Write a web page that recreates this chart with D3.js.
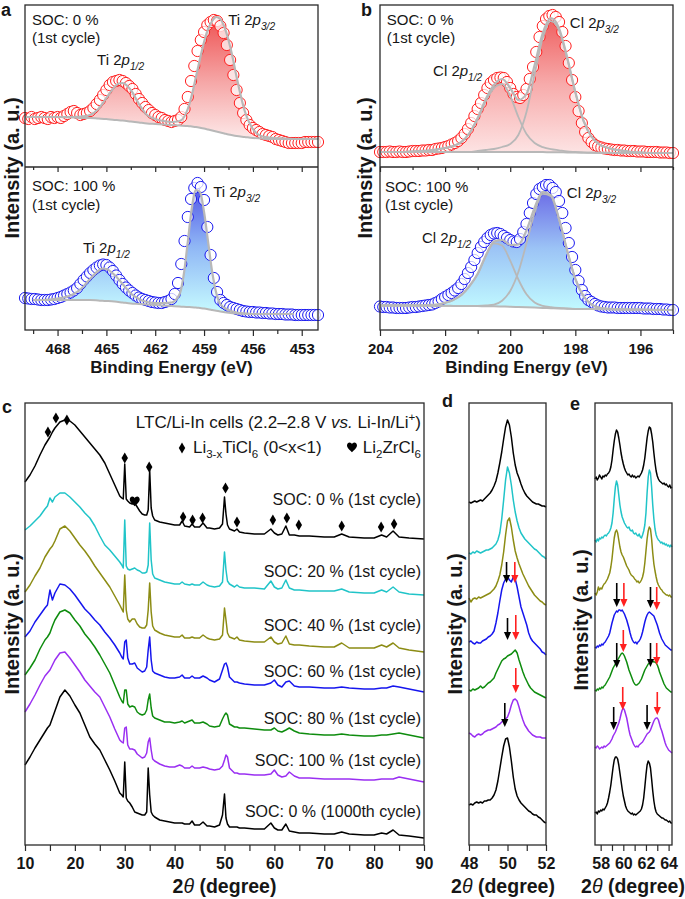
<!DOCTYPE html>
<html><head><meta charset="utf-8">
<script src="https://cdn.jsdelivr.net/npm/d3@7"></script>
<style>
html,body{margin:0;padding:0;background:#fff;}
svg{display:block;font-family:"Liberation Sans",Arial,Helvetica,sans-serif;}
</style></head><body>
<svg id="fig"></svg>
<script>
// ================= DATA =================
// ---- Panel a: Ti 2p XPS (circles: 470 -> 452 eV, step 0.2 eV) ----
const aEnergyStart = 470, aEnergyStep = -0.2;
const aTopCircles = [49,48,50,48,49,50,49,48,50,49, 50,49,51,53,55,56,54,52,53,54, 56,59,63,67,72,77,82,85,86,87, 86,84,81,78,73,68,64,60,57,54, 52,50,49,47,46,45,46,47,50,58, 70,86,101,116,127,135,142,145,147,146, 141,134,122,107,92,77,64,54,47,42, 39,37,35,33,32,31,30,28,27,26, 25,24,24,24,24,24,25,25,25,25, 25];
const aBotCircles = [32,31.5,31,31,30.5,30,30,30,30.5,31, 32,33,34.5,36,37.5,39.5,42,46,50,53.5, 57,60,62.5,64.5,65.5,65,62.5,59,54.5,50, 46,42.5,39.5,37,34.5,32.5,31,30,29,28, 27.5,27,27,28,29,31,36,47,66,89, 113,131,142,147,143,130,103,75,52,38, 30,27,25,23,22,21,20,19,18.5,18, 18,17.5,17.5,17,17,16.5,16.5,16,16,16, 15.5,15.5,15.5,15,15,15,15,15,15,15, 15];
const aTopFitE = [470,469,468,467,466.5,466,465.5,465,464.5,464.25,464,463.5,463,462.5,462,461.5,461,460.5,460,459.75,459.5,459.25,459,458.75,458.5,458.25,458,457.75,457.5,457.25,457,456.5,456,455.5,455,454,453,452];
const aTopFit = [50,50,50,50,50.5,52,58,69,80,83.5,84,77,63,52,48,46,45,46,58,72,90,108,125,138,146,150,148,140,127,110,90,56,38,31,29.5,28.5,28,28];
const aTopBg = [50,50,50,49.5,49,49,48.5,48,47,46.8,46.5,45.5,44.5,43.5,43,42.5,42,41.5,41,40.5,40,39.3,38.5,37.5,36.5,35.5,34.5,33.5,32.5,31.7,31,30,29,28.5,28,28,28,28];
const aBotFitE = [469.5,469,468.5,468,467.5,467,466.5,466,465.5,465.25,465,464.5,464,463.5,463,462.5,462,461.5,461,460.5,460.25,460,459.75,459.5,459.25,459,458.75,458.5,458.25,458,457.5,457,456.5,456,455,454,453.5];
const aBotFit = [30,30,30.5,31.5,33,36,42,51,59,61.5,61,55,46,36.5,31,28,27,27,27.5,36,55,88,122,140,138,118,88,58,37,26,20,17.5,16.5,16,16,16,16];
const aBotBg = [30,30,30,30,30,30,30,30,29.5,29.2,29,28.5,27.5,26.5,26,25.5,25,24.5,24,23.5,23.2,23,22.8,22.5,22,21.5,20.8,20,19.2,18.5,17.3,16.5,16.2,16,16,16,16];

// ---- Panel b: Cl 2p XPS (circles: 204 -> 195 eV, step 0.1 eV) ----
const bEnergyStart = 204, bEnergyStep = -0.1;
const bTopCircles = [15,15,15,15.5,15,15,15.5,15,15,15.5, 16,16,16,16.5,16.5,17,17,18,18.5,19, 20,21,22.5,24,26,29,33,38,44,51, 58,64,72,79,84,87,89,89.5,89,85, 79,73,70,69,72,78,88,100,115,130, 141,148,151,152,150,145,135,121,104,87, 70,56,44,35,29,25,22,20.5,19.5,18.5, 18,17.5,17,17,16.5,16.5,16,16,16,15.5, 15.5,15.5,15,15,15,15,14.5,14.5,14.5,14, 14];
const bBotCircles = [23.5,23,23,22.5,22.5,22,22,22,22,22.5, 23,23,23.5,24,24.5,25,25.5,27,28.5,31, 33,35,37,39.5,42,46,51,57,63,70, 77,83,88,92,95,96.5,97,96,94,92, 90,88.5,88,91,98,106,117,127,136,141, 143,145,145,142,138,129,117,102,87,73, 60,49,40,34,30,28,26,24.5,23.5,23, 22.5,22.5,22.5,22,22,22,22,22,22,22, 22,21.5,21.5,21.5,21,21,21,20.5,20.5,20, 20];
const bFitE = [204,203.75,203.5,203.25,203,202.75,202.5,202.25,202,201.75,201.5,201.25,201,200.75,200.5,200.25,200,199.75,199.5,199.25,199,198.75,198.5,198.25,198,197.75,197.5,197.25,197,196.75,196.5,196.25,196,195.75,195.5,195.25,195];
const bTopBg = [15,15,15,15,15,15,15,15,15,15,15,15,15,15,15,15,15,15,15,15,14.9,14.8,14.7,14.6,14.5,14.4,14.3,14.2,14.2,14.1,14.1,14,14,14,14,14,14];
const bTopP12 = [0,0,0,0,0.5,1,1.5,2.5,4,6,10,19,33,51,64,68,56,35,18,9,5,3,2,1,0.5,0,0,0,0,0,0,0,0,0,0,0,0];
const bTopP32 = [0,0,0,0,0,0,0,0,0,0,0,0,1,2,3,5,8,17,40,78,114,131,122,94,60,32,16,8,5,3,2,1,0.5,0,0,0,0];
const bTopEnv = [0,0,0,0,0.5,1,1.5,2.5,4,6,10,19,34,53,67,73,64,52,58,87,119,134,124,95,60.5,32,16,8,5,3,2,1,0.5,0,0,0,0];
const bBotBg = [24.5,24.5,24.5,24.4,24.4,24.3,24.3,24.2,24.2,24.1,24,24,23.9,23.8,23.7,23.5,23.3,23,22.7,22.4,22.1,21.8,21.5,21.3,21.1,21,20.9,20.8,20.7,20.6,20.5,20.4,20.3,20.2,20.1,20,20];
const bBotP12 = [0,0,0,0.2,0.3,0.4,0.7,1.2,3,6,11,20,32,50,63,61,46,27.5,13,5,2,1,0.5,0.2,0,0,0,0,0,0,0,0,0,0,0,0,0];
const bBotP32 = [0,0,0,0,0,0,0,0,0,0,0,0,0.3,0.8,1.7,5.7,15.7,35,64,95,114,112,89,58,30,13,4.5,1.3,0.5,0,0,0,0,0,0,0,0];
const bBotEnv = [0,0,0,0.2,0.3,0.4,0.7,1.2,3,6,11,20,32.3,50.8,64.7,66.7,61.7,62.5,77,100,116,113,89.5,58.2,30,13,4.5,1.3,0.5,0,0,0,0,0,0,0,0];

// ---- Panel c: XRD patterns (stacked, a.u.) ----
const cAngles = [10,11,12,13,14,14.5,15,15.5,16,17, 18,19,20,21,22,23,24,25,26,27, 28,29,29.4,29.7,30,30.3,30.6,31,31.5,32, 32.5,33,33.5,34,34.4,34.7,35,35.3,35.6,36, 37,38,39,40,41,41.5,42,43,43.5,44, 45,45.7,46.5,47,48,49,49.6,50,50.3,50.6, 51,52,52.5,53,54,56,58,59.3,60,60.7, 61.5,62.3,63,64,65,67,70,72,73.5,75, 78,80,81.5,82.5,83.8,85,87,90];
const cSoc0 = [363,370,379,390,400,404,408,413,417,423, 425,424,420,414,408,402,396,390,382,371, 360,349,347,346,381,346,344,342,341,342, 338,334,331,330,330,335,375,337,329,325, 323,322,321,320,320,324,319,318,321,318, 318,322,317,317,316,317,321,348,331,320, 316,314,316,313,312,311,311,316,312,310, 311,319,310,310,309,309,308,308,311,308, 307,307,310,308,314,308,307,306];
const cSoc20 = [315,319,324,329,336,339,347,343,348,352, 352,348,343,338,332,327,319,309,300,295, 289,283,280,277,325,279,276,275,276,277, 275,274,272,272,273,280,322,285,271,267, 265,263,262,261,261,263,261,260,261,260, 260,263,260,259,258,259,263,293,275,264, 261,258,260,258,257,257,256,264,258,256, 257,265,257,255,255,254,254,254,256,253, 252,252,255,253,258,253,251,250];
const cSoc40 = [253,260,269,277,288,292,296,299,304,316, 319,314,307,300,294,287,279,272,265,258, 249,240,236,233,270,235,226,223,226,226, 221,218,217,217,220,235,262,233,219,215, 212,210,209,208,208,210,207,207,208,207, 207,210,207,206,205,206,210,237,225,212, 208,206,208,205,204,203,203,208,203,201, 202,209,201,200,200,199,198,198,202,197, 197,197,200,198,202,197,195,193];
const cSoc60 = [208,214,223,230,237,240,255,245,252,261, 260,256,250,243,236,231,225,220,213,207, 200,192,188,186,203,205,187,181,181,182, 177,175,173,174,178,195,208,185,174,172, 170,168,167,167,168,170,167,167,169,167, 167,169,167,165,163,166,175,181,182,178, 168,163,163,162,161,160,160,162,165,160, 158,163,164,159,158,158,157,157,158,157, 156,156,157,157,159,158,156,153];
const cSoc80 = [170,177,185,196,205,208,212,219,225,233, 235,232,225,219,211,205,198,190,181,172, 160,148,144,142,155,155,141,138,139,138, 133,131,130,131,135,145,151,137,129,127, 125,123,123,122,123,124,122,124,125,122, 122,123,121,119,118,119,126,130,132,130, 121,118,118,117,117,116,115,115,117,114, 113,115,117,114,112,111,110,110,111,110, 109,109,110,110,111,112,110,107];
const cSoc100 = [133,141,150,160,169,172,175,180,185,192, 193,187,180,173,165,159,153,148,138,128, 116,105,103,102,117,118,100,96,96,95, 91,89,87,88,92,103,107,95,86,84, 81,79,78,78,80,79,77,77,79,77, 77,78,77,76,75,76,79,85,90,88, 77,72,72,71,71,70,70,71,75,70, 68,69,73,69,67,67,66,66,66,66, 65,65,66,66,66,68,66,63];
const cSoc0k = [80,88,97,105,113,117,120,127,134,148, 155,149,140,132,120,108,101,95,85,75, 64,52,50,48,83,47,44,42,38,33, 32,31,30,30,33,77,50,33,30,28, 25,24,23,22,22,22,21,21,24,20, 20,23,19,19,18,20,30,51,27,21, 18,18,18,17,17,16,16,22,17,15, 15,21,14,13,12,12,11,11,13,11, 10,10,12,11,15,10,9,7];
const cLabels = ["SOC: 0 % (1st cycle)","SOC: 20 % (1st cycle)","SOC: 40 % (1st cycle)","SOC: 60 % (1st cycle)","SOC: 80 % (1st cycle)","SOC: 100 % (1st cycle)","SOC: 0 % (1000th cycle)"];
const cLabelHeights = [340,268,214,168,121,79,28];
const cDiamondAngles = [14.6,16.2,18.4,30.0,34.9,41.7,43.6,45.6,50.2,52.5,59.7,62.5,64.9,73.5,81.4,84.0];
const cDiamondHeights = [413,427,425,387,378,328,325,327,357,323,325,327,320,319,318,321];
const cHeartAngles = [32.0];
const cHeartHeights = [343];

// ---- Panel d: 48-52 deg zoom (step 0.1) ----
const dAngleStart = 48, dAngleStep = 0.1;
const dSoc0 = [343,342,343,344,343,344,345,344,346,348, 350,352,355,359,364,372,382,393,406,418, 425,420,408,392,380,372,367,361,356,352, 349,347,345,343,342,341,341,340,339,339, 338];
const dSoc20 = [292,291,293,292,294,293,292,293,294,295, 295,296,297,299,301,305,312,326,345,365, 378,372,360,345,333,324,317,312,309,306, 304,302,300,298,296,295,293,291,289,288, 286];
const dSoc40 = [247,243,246,247,246,248,247,248,249,250, 251,252,254,256,259,264,270,280,293,310, 324,327,318,305,294,287,281,276,271,267, 263,259,256,253,250,248,246,244,243,241, 240];
const dSoc60 = [203,204,202,201,203,202,202,204,205,206, 208,209,211,214,222,232,244,255,262,266, 268,265,263,268,266,258,248,238,232,226, 220,212,207,204,202,200,198,196,193,192, 190];
const dSoc80 = [155,154,156,155,156,157,159,157,158,160, 162,163,165,167,172,176,180,184,186,187, 189,190,191,193,195,192,185,179,173,168, 164,160,157,155,153,152,151,150,149,148, 147];
const dSoc100 = [112,111,109,108,110,111,110,111,113,114, 115,115,116,117,118,120,121,123,125,126, 128,133,140,145,146,144,138,131,125,120, 117,114,112,110,109,108,108,108,107,107, 107];
const dSoc0k = [40,41,40,42,43,42,43,42,44,44, 45,45,47,50,55,64,76,88,99,106, 107,98,84,68,56,49,45,42,40,38, 36,34,33,31,30,30,28,27,25,23, 22];
const dArrowAngles = [49.95,50.38,50.0,50.43,49.86,50.43];
const dArrowTops = [283,283,227,230,142,177];
const dArrowBottoms = [262,262,205,205,118,152];
const dArrowKinds = ["ref","shift","ref","shift","ref","shift"];

// ---- Panel e: 57.5-64.3 deg zoom (step 0.1) ----
const eAngleStart = 57.5, eAngleStep = 0.1;
const eSoc0 = [366,368,365,367,370,368,366,369,368,370, 369,371,372,374,378,385,395,404,411,415, 413,407,400,392,386,381,377,374,372,370, 371,369,368,370,368,369,367,368,369,368, 370,372,375,380,387,397,407,414,418,417, 411,403,392,382,374,369,366,364,363,362, 361,362,360,361,359,358,360,357,358];
const eSoc20 = [305,303,306,304,307,306,308,307,309,310, 309,311,312,314,317,322,332,346,358,364, 360,350,340,333,328,325,322,320,318,317, 318,315,314,315,312,311,312,310,309,311, 308,307,310,314,320,332,352,368,375,372, 358,340,326,316,310,307,305,304,302,303, 301,302,300,301,299,300,298,300,298];
const eSoc40 = [252,250,253,258,255,257,256,259,261,262, 264,266,269,272,278,286,297,307,313,315, 312,305,298,293,290,288,285,282,279,277, 275,272,270,269,268,266,265,263,264,262, 263,265,268,273,282,294,306,314,318,316, 306,292,281,274,268,263,260,258,256,255, 253,252,251,250,250,249,250,248,248];
const eSoc60 = [198,197,199,198,200,199,201,200,202,203, 205,207,209,212,217,222,226,230,232,234, 233,235,235,234,235,233,231,228,225,221, 217,212,208,205,203,202,203,201,203,204, 206,209,213,218,223,227,230,232,233,232, 231,230,229,226,223,220,216,212,209,206, 204,202,200,199,198,197,196,195,195];
const eSoc80 = [155,154,156,155,157,156,158,157,159,160, 162,164,166,168,171,174,177,179,181,183, 185,187,189,191,192,191,189,186,183,179, 175,172,169,166,163,161,160,160,161,162, 164,166,169,172,175,177,179,181,182,183, 183,184,183,183,182,180,177,173,170,167, 164,161,159,157,156,155,154,153,153];
const eSoc100 = [98,97,99,98,96,97,98,97,99,98, 99,100,101,102,104,106,109,111,113,116, 119,122,126,131,135,137,135,131,127,121, 115,110,107,104,101,99,98,99,98,100, 101,102,103,105,107,109,111,112,113,115, 118,121,124,126,127,127,125,121,117,114, 110,106,102,99,97,95,94,93,92];
const eSoc0k = [32,33,31,34,33,35,34,36,35,37, 39,42,47,53,60,69,78,85,88,88, 86,80,72,64,56,49,44,39,36,34, 33,32,31,32,30,31,30,31,32,33, 34,36,40,47,58,70,80,84,82,77, 66,54,44,37,33,31,30,29,28,27, 27,26,25,25,24,23,24,22,22];
const eArrowAngles = [59.42,60.05,62.4,62.95, 59.42,60.0,62.4,62.95, 59.15,59.95,62.1,63.0];
const eArrowTops = [262,262,258,258, 202,215,202,202, 138,158,140,153];
const eArrowBottoms = [238,238,237,235, 177,193,178,180, 115,135,115,130];
const eArrowKinds = ["ref","shift","ref","shift","ref","shift","ref","shift","ref","shift","ref","shift"];

// tick values
const aMajorTicks = [468,465,462,459,456,453], aMinorTicks = [469.5,466.5,463.5,460.5,457.5,454.5];
const bMajorTicks = [204,202,200,198,196], bMinorTicks = [203,201,199,197,195];
const cMajorTicks = [10,20,30,40,50,60,70,80,90], cMinorTicks = [15,25,35,45,55,65,75,85];
const dMajorTicks = [48,50,52], dMinorTicks = [49,51];
const eMajorTicks = [58,60,62,64], eMinorTicks = [59,61,63];

// ================= STYLE =================
const INK = "#161616", FRAME = "#2a2a2a", FITC = "#b8b8b8";
const RED = "#ff2020", BLUE = "#1c1cf0";
const xrdColors = ["#000000","#20c4c8","#8c8c14","#1616ee","#0e8c0e","#9a2ff2","#000000"];
const arrowColors = {ref:"#000000", shift:"#ff2020"};
const FONT = '"Liberation Sans", Arial, Helvetica, sans-serif';

// ================= DRAW =================
const fig = d3.select("#fig").attr("width",685).attr("height",899);
const defs = fig.append("defs");

function addGrad(id, y1, y2, stops){
  const g = defs.append("linearGradient").attr("id",id).attr("gradientUnits","userSpaceOnUse")
    .attr("x1",0).attr("x2",0).attr("y1",y1).attr("y2",y2);
  stops.forEach(s=>g.append("stop").attr("offset",s[0]).attr("stop-color",s[1]));
}

function rich(parent, x, y, parts, o){
  o = o || {};
  const size = o.size || 15;
  const t = parent.append("text").attr("x",x).attr("y",y).attr("font-size",size)
    .attr("text-anchor",o.anchor||"start").attr("fill",INK).attr("font-family",FONT)
    .attr("font-weight",o.weight||"normal");
  let shift = 0;
  parts.forEach(p=>{
    if (typeof p === "string") p = {t:p};
    const target = p.sub ? size*0.3 : (p.sup ? -size*0.4 : 0);
    const ts = t.append("tspan").text(p.t).attr("dy", target-shift);
    shift = target;
    if (p.sub || p.sup) ts.attr("font-size", size*0.68);
    if (p.it) ts.attr("font-style","italic");
    if (p.w) ts.attr("font-weight",p.w);
  });
  return t;
}

function frame(x, y){
  const [x0,x1] = x.range(), [y0,y1] = y.range();
  fig.append("rect").attr("x",Math.min(x0,x1)).attr("y",Math.min(y0,y1))
    .attr("width",Math.abs(x1-x0)).attr("height",Math.abs(y1-y0))
    .attr("fill","none").attr("stroke",FRAME).attr("stroke-width",1.3);
}

function axisAt(x, yPos, major, minor, majLen, minLen, labels, fsize){
  const gMin = fig.append("g").attr("transform",`translate(0,${yPos})`)
    .call(d3.axisBottom(x).tickValues(minor).tickSize(minLen).tickFormat(""));
  const gMaj = fig.append("g").attr("transform",`translate(0,${yPos})`)
    .call(d3.axisBottom(x).tickValues(major).tickSize(majLen).tickPadding(7).tickFormat(labels ? d3.format("d") : ""));
  [gMin,gMaj].forEach(g=>{
    g.select(".domain").remove();
    g.selectAll("line").attr("stroke",FRAME).attr("stroke-width",1.2);
    g.attr("font-family",FONT);
  });
  gMaj.selectAll("text").attr("font-size",fsize||15).attr("font-weight","bold").attr("fill",INK);
}

function yLabel(cx, cy){
  fig.append("text").attr("transform",`translate(${cx},${cy}) rotate(-90)`)
    .attr("text-anchor","middle").attr("dy","0.35em").attr("font-size",20).attr("font-weight","bold")
    .attr("font-family",FONT).attr("fill",INK).text("Intensity (a. u.)");
}

function panelLetter(x, y, s){
  fig.append("text").attr("x",x).attr("y",y).attr("font-size",18).attr("font-weight","bold")
    .attr("font-family",FONT).attr("fill",INK).text(s);
}

// ---- XPS sub panel ----
function xps(x, y, e0, de, circles, fitE, fitV, bgV, comps, gradId, stroke){
  const g = fig.append("g");
  const fitPts = fitE.map((e,i)=>({e, v:fitV[i], b:bgV[i]}));
  g.append("path").datum(fitPts)
    .attr("d", d3.area().x(d=>x(d.e)).y0(d=>y(d.b)).y1(d=>y(d.v)).curve(d3.curveMonotoneX))
    .attr("fill",`url(#${gradId})`);
  const pts = circles.map((v,i)=>({e:e0+de*i, v}));
  g.selectAll("circle.pt").data(pts).join("circle").attr("class","pt")
    .attr("cx",d=>x(d.e)).attr("cy",d=>y(d.v)).attr("r",5.6)
    .attr("fill","#ffffff").attr("fill-opacity",0.72)
    .attr("stroke",stroke).attr("stroke-width",1);
  const line = d3.line().x(d=>x(d.e)).y(d=>y(d.v)).curve(d3.curveMonotoneX);
  g.append("path").datum(fitE.map((e,i)=>({e, v:bgV[i]}))).attr("d",line)
    .attr("fill","none").attr("stroke",FITC).attr("stroke-width",2);
  comps.forEach(c=>{
    g.append("path").datum(fitE.map((e,i)=>({e, v:bgV[i]+c[i]}))).attr("d",line)
      .attr("fill","none").attr("stroke",FITC).attr("stroke-width",1.8);
  });
  g.append("path").datum(fitPts).attr("d",line)
    .attr("fill","none").attr("stroke",FITC).attr("stroke-width",2.2);
}

// ---------- Panel a ----------
const xA = d3.scaleLinear().domain([470,452]).range([25,318]);
const yATop = d3.scaleLinear().domain([0,162]).range([167,5]);
const yABot = d3.scaleLinear().domain([0,163]).range([330,167]);
addGrad("gAr", yATop(150), yATop(30), [[0,"#ee5252"],[0.55,"#f6a8a8"],[1,"#fde6e6"]]);
addGrad("gAb", yABot(150), yABot(18), [[0,"#4a4ae4"],[0.5,"#8fb6f5"],[1,"#c6faff"]]);
xps(xA, yATop, aEnergyStart, aEnergyStep, aTopCircles, aTopFitE, aTopFit, aTopBg, [], "gAr", RED);
xps(xA, yABot, aEnergyStart, aEnergyStep, aBotCircles, aBotFitE, aBotFit, aBotBg, [], "gAb", BLUE);

// ---------- Panel b ----------
const xB = d3.scaleLinear().domain([204,195]).range([380,673]);
const yBTop = yATop, yBBot = yABot;
addGrad("gBr", yBTop(150), yBTop(15), [[0,"#ef5e5e"],[0.5,"#f7abab"],[1,"#fde3e3"]]);
addGrad("gBb", yBBot(140), yBBot(22), [[0,"#6b6be6"],[0.5,"#9cc4f6"],[1,"#c0f8ff"]]);
xps(xB, yBTop, bEnergyStart, bEnergyStep, bTopCircles, bFitE, bTopEnv.map((h,i)=>h+bTopBg[i]), bTopBg, [bTopP12,bTopP32], "gBr", RED);
xps(xB, yBBot, bEnergyStart, bEnergyStep, bBotCircles, bFitE, bBotEnv.map((h,i)=>h+bBotBg[i]), bBotBg, [bBotP12,bBotP32], "gBb", BLUE);

// frames & axes a,b
[xA, xB].forEach(x=>{
  frame(x, d3.scaleLinear().range([yATop.range()[1], yABot.range()[0]]));
  fig.append("line").attr("x1",x.range()[0]).attr("x2",x.range()[1]).attr("y1",yATop(0)).attr("y2",yATop(0))
    .attr("stroke",FRAME).attr("stroke-width",1.3);
});
axisAt(xA, yABot(0), aMajorTicks, aMinorTicks, 6, 4, true, 15);
axisAt(xA, yATop(0), aMajorTicks, aMinorTicks, 5, 3, false);
axisAt(xB, yBBot(0), bMajorTicks, bMinorTicks, 6, 4, true, 15);
axisAt(xB, yBTop(0), bMajorTicks, bMinorTicks, 5, 3, false);

// annotations a,b
rich(fig, xA(469.57), yATop(142), ["SOC: 0 %"]);
rich(fig, xA(469.57), yATop(124), ["(1st cycle)"]);
rich(fig, xA(465.57), yATop(102), ["Ti 2",{t:"p",it:1},{t:"1/2",sub:1,it:1}]);
rich(fig, xA(457.52), yATop(142), ["Ti 2",{t:"p",it:1},{t:"3/2",sub:1,it:1}]);
rich(fig, xA(469.57), yABot(139), ["SOC: 100 %"]);
rich(fig, xA(469.57), yABot(120), ["(1st cycle)"]);
rich(fig, xA(466.44), yABot(77), ["Ti 2",{t:"p",it:1},{t:"1/2",sub:1,it:1}]);
rich(fig, xA(458.44), yABot(133), ["Ti 2",{t:"p",it:1},{t:"3/2",sub:1,it:1}]);
rich(fig, xB(203.79), yBTop(142), ["SOC: 0 %"]);
rich(fig, xB(203.79), yBTop(124), ["(1st cycle)"]);
rich(fig, xB(202.37), yBTop(91), ["Cl 2",{t:"p",it:1},{t:"1/2",sub:1,it:1}]);
rich(fig, xB(198.17), yBTop(139), ["Cl 2",{t:"p",it:1},{t:"3/2",sub:1,it:1}]);
rich(fig, xB(203.85), yBBot(138), ["SOC: 100 %"]);
rich(fig, xB(203.85), yBBot(120), ["(1st cycle)"]);
rich(fig, xB(202.71), yBBot(87), ["Cl 2",{t:"p",it:1},{t:"1/2",sub:1,it:1}]);
rich(fig, xB(198.26), yBBot(132), ["Cl 2",{t:"p",it:1},{t:"3/2",sub:1,it:1}]);
rich(fig, (xA.range()[0]+xA.range()[1])/2, 373, ["Binding Energy (eV)"], {anchor:"middle", size:17, weight:"bold"});
rich(fig, (xB.range()[0]+xB.range()[1])/2, 373, ["Binding Energy (eV)"], {anchor:"middle", size:17, weight:"bold"});
yLabel(12, 168);
yLabel(365, 168);
panelLetter(1, 16, "a");
panelLetter(361, 16, "b");

// ---------- Panels c, d, e ----------
const yX = d3.scaleLinear().domain([0,442]).range([845,403]);
const xC = d3.scaleLinear().domain([10,90]).range([25,424]);
const xD = d3.scaleLinear().domain([48,52]).range([469,546]);
const xE = d3.scaleLinear().domain([57.5,64.3]).range([595,672]);

function xrdLines(x, angles, series){
  const line = d3.line().x(d=>x(d[0])).y(d=>yX(d[1]));
  series.forEach((s,k)=>{
    fig.append("path").datum(s.map((v,i)=>[angles[i], v])).attr("d",line)
      .attr("fill","none").attr("stroke",xrdColors[k]).attr("stroke-width",1.5)
      .attr("stroke-linejoin","round");
  });
}
function grid(start, step, n){ return d3.range(n).map(i=>+(start+step*i).toFixed(3)); }

xrdLines(xC, cAngles, [cSoc0,cSoc20,cSoc40,cSoc60,cSoc80,cSoc100,cSoc0k]);
xrdLines(xD, grid(dAngleStart,dAngleStep,dSoc0.length), [dSoc0,dSoc20,dSoc40,dSoc60,dSoc80,dSoc100,dSoc0k]);
xrdLines(xE, grid(eAngleStart,eAngleStep,eSoc0.length), [eSoc0,eSoc20,eSoc40,eSoc60,eSoc80,eSoc100,eSoc0k]);

// markers in c
const diamond = d3.symbol().type(d3.symbolDiamond).size(36);
cDiamondAngles.forEach((a,i)=>{
  fig.append("path").attr("d",diamond()).attr("transform",`translate(${xC(a)},${yX(cDiamondHeights[i])})`).attr("fill","#000");
});
const heartPath = "M0,4.2C-1,3.2 -5,0.2 -5,-2.4C-5,-4.4 -3.6,-5.4 -2.5,-5.4C-1.2,-5.4 -0.3,-4.6 0,-3.7C0.3,-4.6 1.2,-5.4 2.5,-5.4C3.6,-5.4 5,-4.4 5,-2.4C5,0.2 1,3.2 0,4.2Z";
cHeartAngles.forEach((a,i)=>{
  fig.append("path").attr("d",heartPath).attr("transform",`translate(${xC(a)},${yX(cHeartHeights[i])})`).attr("fill","#000");
});

// labels in c
cLabels.forEach((s,i)=>{
  rich(fig, xC(89.4), yX(cLabelHeights[i]), [s], {anchor:"end", size:16});
});
// legend in c
rich(fig, xC(89.4), yX(417), ["LTC/Li-In cells (2.2\u20132.8 V ",{t:"vs.",it:1}," Li-In/Li",{t:"+",sup:1},")"], {anchor:"end", size:17});
fig.append("path").attr("d",diamond()).attr("transform",`translate(${xC(41.48)},${yX(397)})`).attr("fill","#000");
rich(fig, xC(43.68), yX(392), ["Li",{t:"3-x",sub:1},"TiCl",{t:"6",sub:1}," (0<x<1)"], {size:17});
fig.append("path").attr("d",heartPath).attr("transform",`translate(${xC(75.56)},${yX(397)})`).attr("fill","#000");
rich(fig, xC(89.4), yX(392), ["Li",{t:"2",sub:1},"ZrCl",{t:"6",sub:1}], {anchor:"end", size:17});

// arrows in d, e
function arrows(x, angles, tops, bots, kinds){
  angles.forEach((a,i)=>{
    const px = x(a), yt = yX(tops[i]), yb = yX(bots[i]), col = arrowColors[kinds[i]];
    fig.append("line").attr("x1",px).attr("x2",px).attr("y1",yt).attr("y2",yb-6)
      .attr("stroke",col).attr("stroke-width",1.6);
    fig.append("path").attr("d",`M${px-3.6},${yb-8}L${px+3.6},${yb-8}L${px},${yb}Z`).attr("fill",col);
  });
}
arrows(xD, dArrowAngles, dArrowTops, dArrowBottoms, dArrowKinds);
arrows(xE, eArrowAngles, eArrowTops, eArrowBottoms, eArrowKinds);

// frames & axes c,d,e
frame(xC, yX); frame(xD, yX); frame(xE, yX);
axisAt(xC, yX(0), cMajorTicks, cMinorTicks, 6, 6, true, 16);
axisAt(xD, yX(0), dMajorTicks, dMinorTicks, 6, 6, true, 16);
axisAt(xE, yX(0), eMajorTicks, eMinorTicks, 6, 6, true, 16);
const thetaTitle = ["2",{t:"\u03b8",it:1,w:"normal"}," (degree)"];
rich(fig, (xC.range()[0]+xC.range()[1])/2, 893, thetaTitle, {anchor:"middle", size:19.5, weight:"bold"});
rich(fig, 503, 893, thetaTitle, {anchor:"middle", size:19.5, weight:"bold"});
rich(fig, 633, 893, thetaTitle, {anchor:"middle", size:19.5, weight:"bold"});
yLabel(12, 624);
yLabel(455, 624);
yLabel(581, 620);
panelLetter(2, 413, "c");
panelLetter(442, 407, "d");
panelLetter(570, 410, "e");
</script></body></html>
